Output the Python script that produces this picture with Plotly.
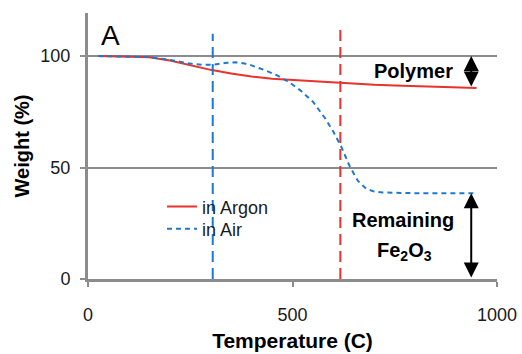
import plotly.graph_objects as go

# Data
argon_temp = [25, 100, 150, 200, 250, 300, 350, 400, 450, 500, 550, 600, 650, 700, 750, 800, 850, 900, 950]
argon_weight = [100, 99.9, 99.5, 98.0, 95.8, 93.8, 92.2, 90.8, 89.8, 89.2, 88.7, 88.1, 87.6, 87.1, 86.8, 86.5, 86.2, 85.9, 85.7]

air_temp = [25, 100, 150, 200, 250, 280, 310, 340, 360, 380, 400, 430, 460, 490, 520, 550, 580, 600,
            620, 640, 660, 680, 700, 720, 750, 800, 850, 900, 950]
air_weight = [100, 99.9, 99.5, 98.3, 96.6, 96.0, 96.2, 97.0, 97.2, 96.8, 95.8, 93.8, 91.5, 88.5, 84.5, 79.5, 72.0, 66.0,
              59.0, 50.5, 44.0, 40.5, 39.2, 38.8, 38.6, 38.5, 38.5, 38.5, 38.5]

air_marker_temp = 305      # blue dashed vertical line
argon_marker_temp = 617    # red dashed vertical line
arrow_temp = 937
polymer_top, polymer_bottom = 100, 85.7
fe2o3_top, fe2o3_bottom = 38.5, 0

x_ticks = [0, 500, 1000]
y_ticks = [0, 50, 100]

RED = "#e8322b"
BLUE = "#1f78cf"
GRAY = "#8c8c8c"
FONT = "Liberation Sans, Arial, sans-serif"

fig = go.Figure()
fig.add_trace(go.Scatter(x=argon_temp, y=argon_weight, mode="lines", name="in Argon",
                         line=dict(color=RED, width=2), legend="legend"))
fig.add_trace(go.Scatter(x=air_temp, y=air_weight, mode="lines", name="in Air",
                         line=dict(color=BLUE, width=2, dash="5px,4px"), legend="legend2"))

fig.add_shape(type="line", xref="x", yref="y", x0=air_marker_temp, x1=air_marker_temp, y0=0, y1=110,
              line=dict(color=BLUE, width=2, dash="11px,6px"))
fig.add_shape(type="line", xref="x", yref="y", x0=argon_marker_temp, x1=argon_marker_temp, y0=0, y1=112,
              line=dict(color=RED, width=2, dash="11px,6px"))

for top, bot in [(polymer_top, polymer_bottom), (fe2o3_top, fe2o3_bottom)]:
    fig.add_annotation(x=arrow_temp, y=top, ax=arrow_temp, ay=bot, axref="x", ayref="y",
                       xref="x", yref="y", text="", showarrow=True, arrowside="end+start",
                       arrowhead=2, startarrowhead=2, arrowsize=1.5, startarrowsize=1.5,
                       arrowwidth=2, arrowcolor="black")

fig.add_annotation(x=797, y=93.3, xref="x", yref="y", text="<b>Polymer</b>", showarrow=False,
                   font=dict(size=20, color="black", family=FONT))
fig.add_annotation(x=770, y=26.5, xref="x", yref="y", text="<b>Remaining</b>", showarrow=False,
                   font=dict(size=20, color="black", family=FONT))
fig.add_annotation(x=775, y=12.5, xref="x", yref="y", text="<b>Fe<sub>2</sub>O<sub>3</sub></b>", showarrow=False,
                   font=dict(size=20, color="black", family=FONT))
fig.add_annotation(x=56, y=109.4, xref="x", yref="y", text="A", showarrow=False,
                   font=dict(size=28, color="black", family=FONT))

legend_common = dict(xanchor="left", yanchor="middle", bgcolor="rgba(0,0,0,0)",
                     font=dict(size=18, color="#1a1a1a"), itemwidth=30, borderwidth=0)

fig.update_layout(
    width=522, height=354,
    margin=dict(l=88, r=25, t=13, b=75, autoexpand=False),
    paper_bgcolor="white", plot_bgcolor="white",
    font=dict(family=FONT, size=18, color="#1a1a1a"),
    showlegend=True,
    legend=dict(x=0.181, y=0.271, **legend_common),
    legend2=dict(x=0.181, y=0.188, **legend_common),
    xaxis=dict(range=[0, 1000], tickvals=x_ticks, showgrid=False, zeroline=False, automargin=False,
               showline=True, linecolor=GRAY, linewidth=3, ticks="outside", ticklen=5,
               tickwidth=2, tickcolor=GRAY, ticklabelstandoff=12,
               title=dict(text="<b>Temperature (C)</b>", font=dict(size=21, color="black"), standoff=10)),
    yaxis=dict(range=[0, 119.3], tickvals=y_ticks, showgrid=True, gridcolor=GRAY, gridwidth=2,
               zeroline=False, showline=True, linecolor=GRAY, linewidth=3, ticks="outside", automargin=False,
               ticklen=5, tickwidth=2, tickcolor=GRAY, ticklabelstandoff=6,
               title=dict(text="<b>Weight (%)</b>", font=dict(size=20, color="black"), standoff=6)),
)

fig.write_html("out.html")
